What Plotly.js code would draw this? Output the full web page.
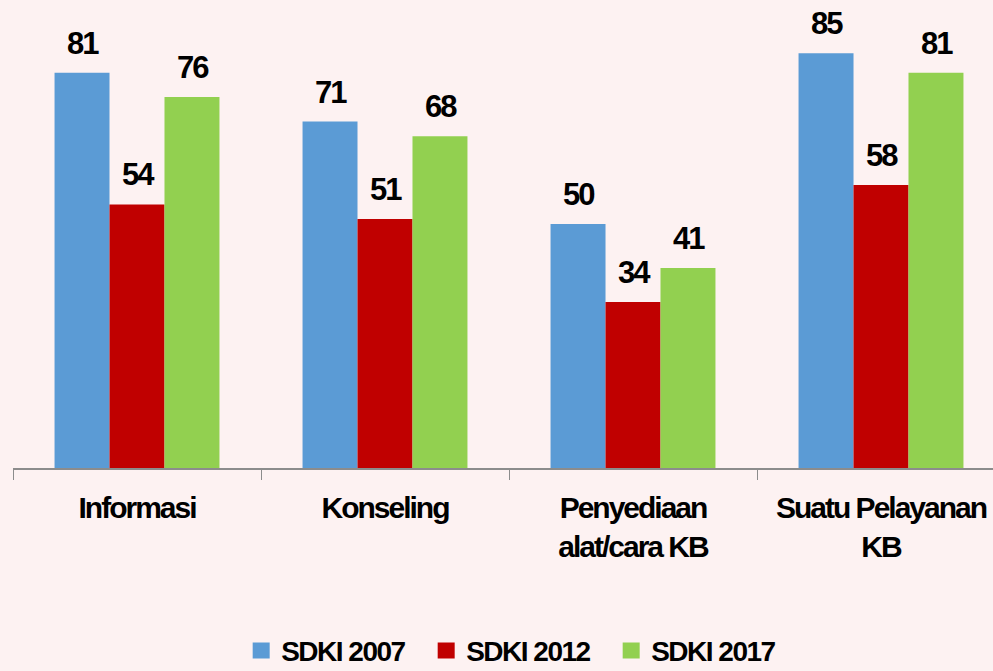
<!DOCTYPE html>
<html>
<head>
<meta charset="utf-8">
<script src="https://cdn.plot.ly/plotly-3.0.1.min.js"></script>
<style>
html, body { margin: 0; padding: 0; background: #fdf2f2; }
#chart { width: 993px; height: 671px; }
#chart svg .xtick text { letter-spacing: -2px; }
#chart svg .annotation text { letter-spacing: -2px; }
#chart svg .legendtext { letter-spacing: -1.5px; }
</style>
</head>
<body>
<div id="chart"></div>
<script>
var categories = ["Informasi", "Konseling", "Penyediaan<br>alat/cara KB", "Suatu Pelayanan<br>KB"];
var seriesNames = ["SDKI 2007", "SDKI 2012", "SDKI 2017"];
var sdki2007 = [81, 71, 50, 85];
var sdki2012 = [54, 51, 34, 58];
var sdki2017 = [76, 68, 41, 81];
var colors = ["#5b9bd5", "#c00000", "#92d050"];

var seriesValues = [sdki2007, sdki2012, sdki2017];
var FONT = "Liberation Sans, Arial, Helvetica, sans-serif";

var traces = seriesValues.map(function (vals, i) {
  return {
    type: "bar",
    name: seriesNames[i],
    x: categories,
    y: vals,
    marker: { color: colors[i] },
    hoverinfo: "none"
  };
});

// data labels as annotations above each bar
var barPx = 55;
var offsets = [-barPx, 0, barPx];
var annotations = [];
seriesValues.forEach(function (vals, i) {
  vals.forEach(function (v, j) {
    annotations.push({
      x: categories[j], y: v, xref: "x", yref: "y",
      text: String(v), showarrow: false,
      xanchor: "center", yanchor: "bottom",
      xshift: offsets[i], yshift: 10,
      font: { family: FONT, size: 31, color: "#000", weight: "bold" }
    });
  });
});

var layout = {
  width: 993, height: 671,
  paper_bgcolor: "#fdf2f2",
  plot_bgcolor: "#fdf2f2",
  margin: { l: 13, r: 0, t: 0, b: 203, autoexpand: false },
  barmode: "group",
  bargap: 0.335,
  bargroupgap: 0,
  showlegend: true,
  legend: {
    orientation: "h",
    x: 0.516, xanchor: "center",
    yref: "container",
    y: 0.03, yanchor: "middle",
    font: { family: FONT, size: 28, color: "#000", weight: "bold" },
    entrywidth: 140,
    bgcolor: "rgba(0,0,0,0)"
  },
  xaxis: {
    range: [-0.5, 3.4516],
    automargin: false,
    showline: true, linecolor: "#8c8c8c", linewidth: 2,
    ticks: "outside", tickson: "boundaries", ticklen: 10, tickcolor: "#8c8c8c", tickwidth: 1,
    tickfont: { family: FONT, size: 30, color: "#000", weight: "bold" },
    ticklabelstandoff: 12,
    showgrid: false, zeroline: false, fixedrange: true
  },
  yaxis: {
    range: [0, 95.9],
    automargin: false,
    visible: false, showgrid: false, zeroline: false, fixedrange: true
  },
  annotations: annotations
};

Plotly.newPlot("chart", traces, layout, { displayModeBar: false, staticPlot: true }).then(function (gd) {
  // enlarge legend swatches to match the reference squares
  var paths = gd.querySelectorAll(".legendpoints path");
  paths.forEach(function (p) { p.setAttribute("d", "M8.5,8H-8.5V-8H8.5Z"); });
});
</script>
</body>
</html>
